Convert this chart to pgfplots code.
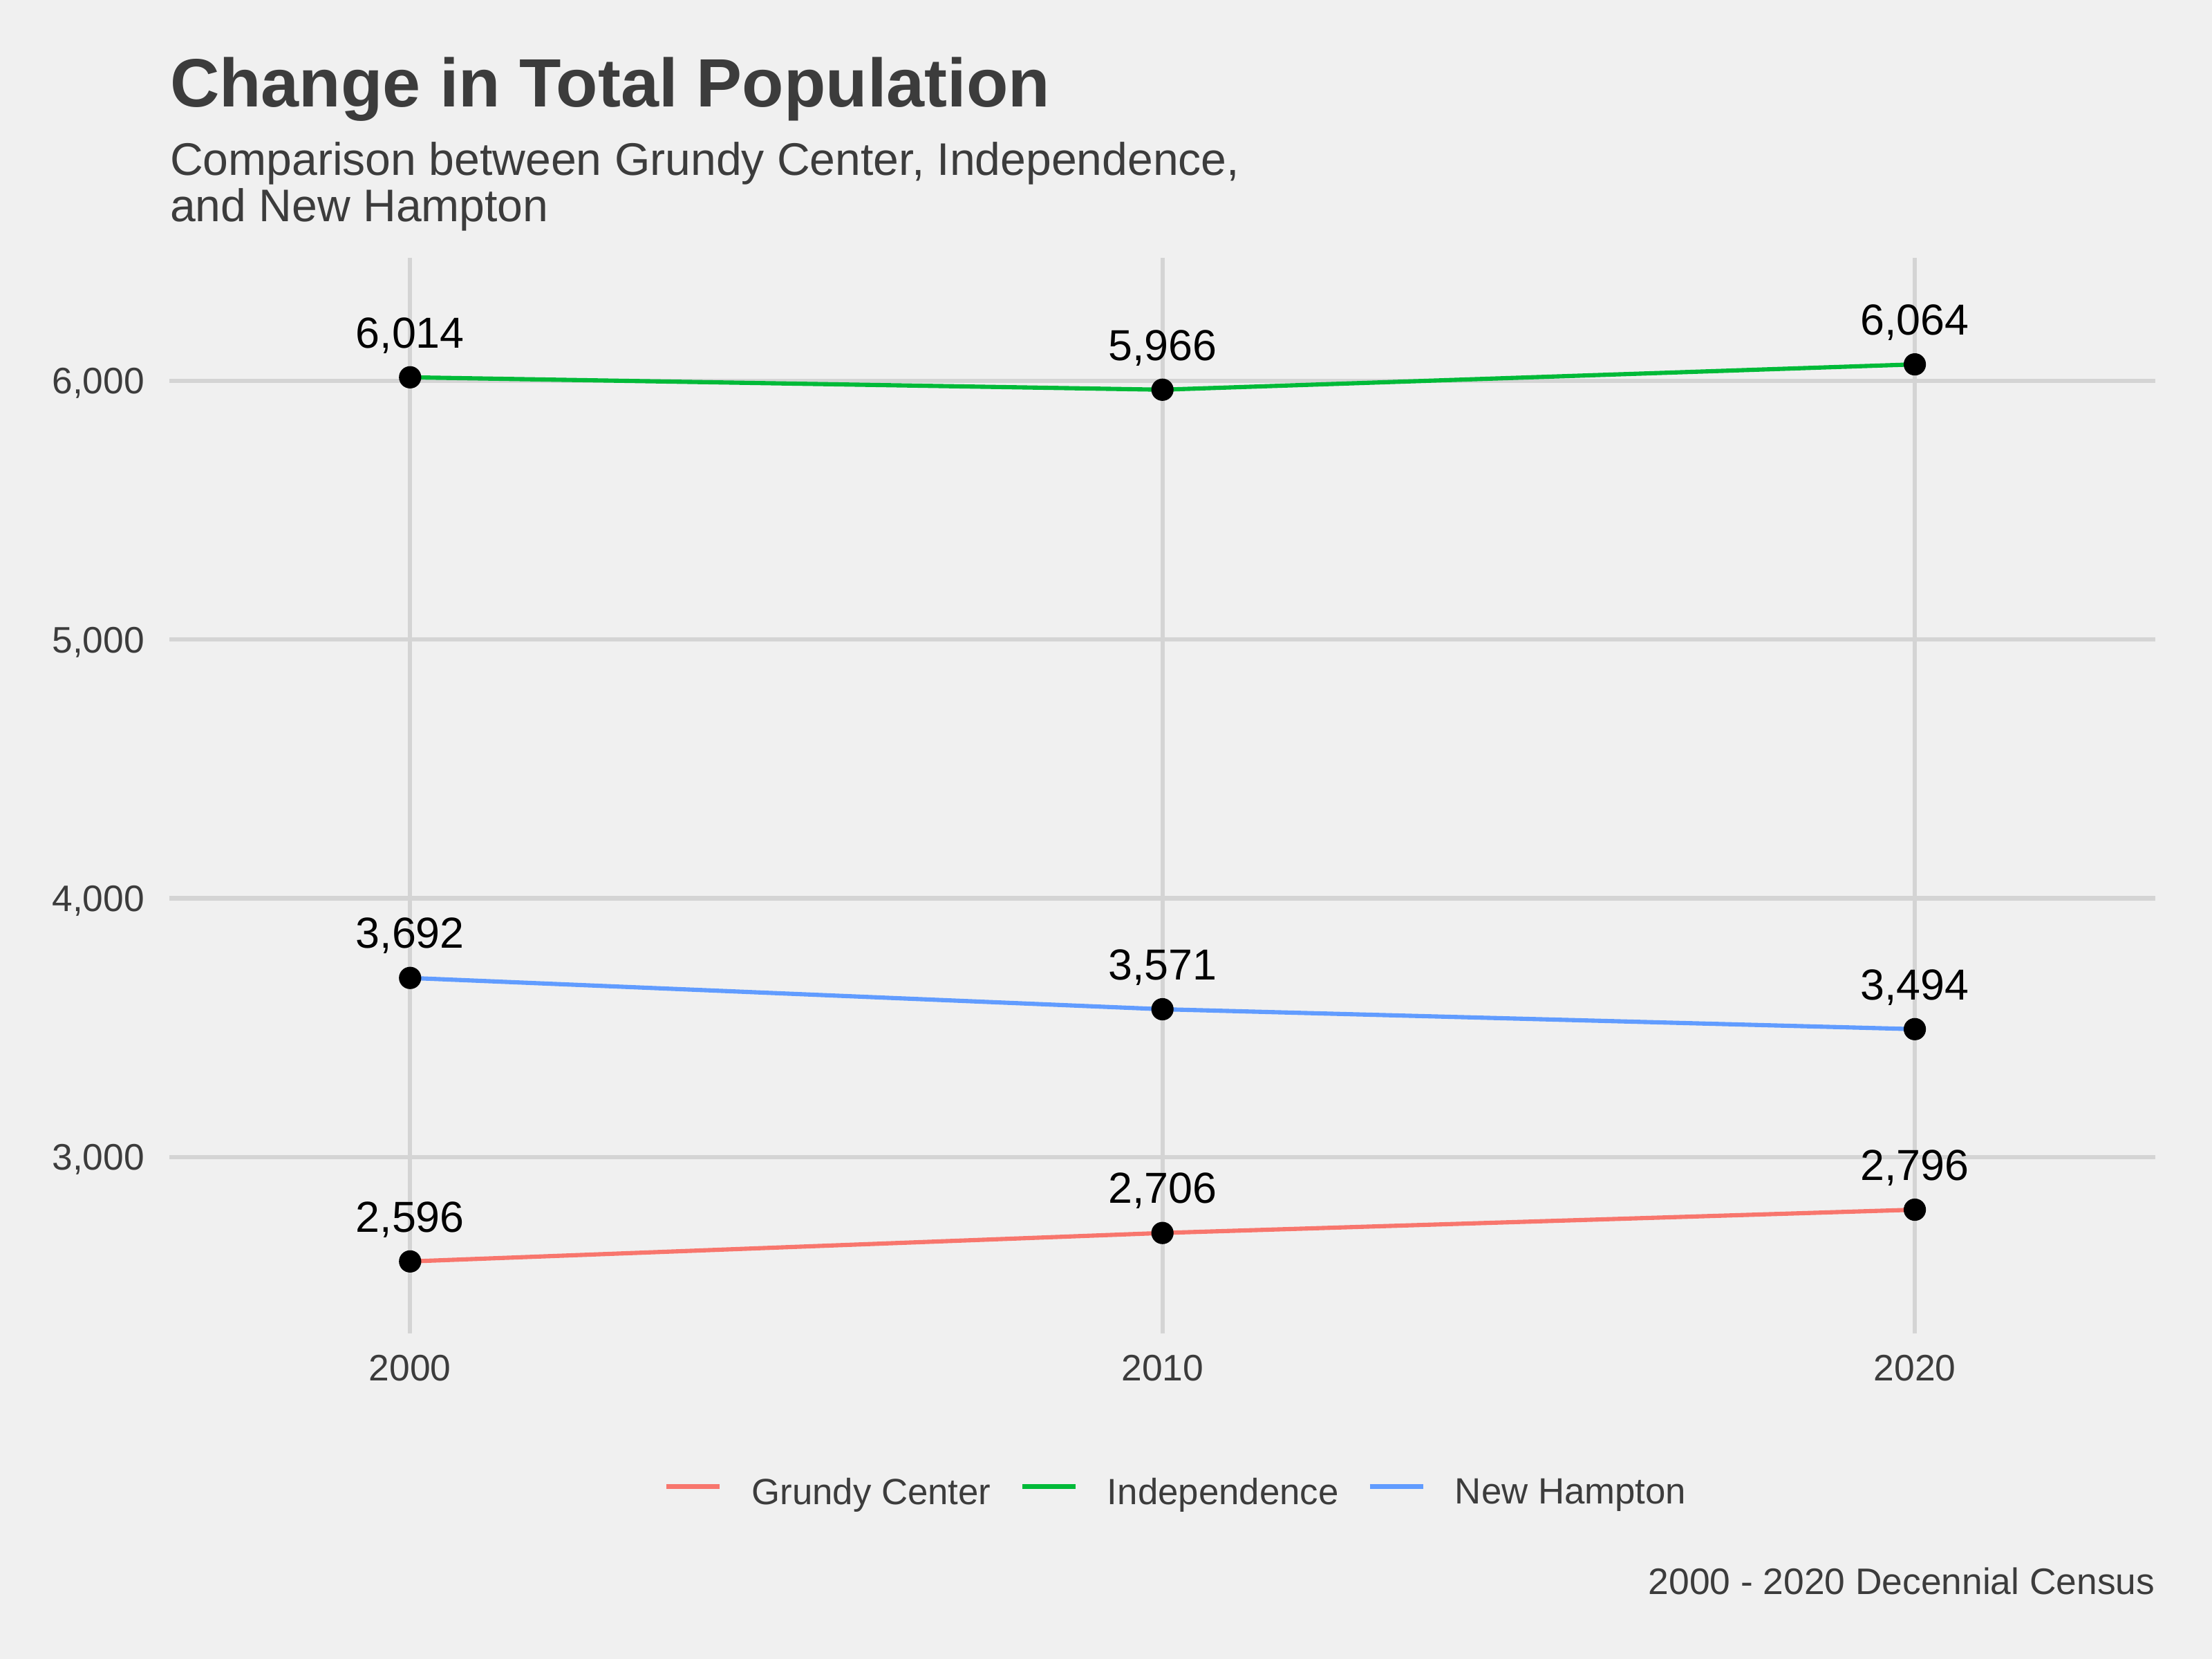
\documentclass[border=0pt]{standalone}
\usepackage{pgfplots}
\pgfplotsset{compat=1.18}
\usepackage{fontspec}
\setmainfont{Liberation Sans}
\definecolor{bgc}{HTML}{F0F0F0}
\definecolor{gridc}{HTML}{D4D4D4}
\definecolor{textc}{HTML}{3C3C3C}
\definecolor{gcol}{HTML}{F8766D}
\definecolor{icol}{HTML}{00BA38}
\definecolor{ncol}{HTML}{619CFF}
\pgfplotstableread{
year pop
2000 2596
2010 2706
2020 2796
}\grundy
\pgfplotstableread{
year pop
2000 6014
2010 5966
2020 6064
}\indep
\pgfplotstableread{
year pop
2000 3692
2010 3571
2020 3494
}\newhampton
\pgfplotsset{
  dots/.style={forget plot, only marks, mark=*, mark size=2.7bp,
    mark options={fill=black, draw=none}, point meta=explicit,
    nodes near coords={\pgfmathprintnumber[1000 sep={,},assume math mode=true]{\pgfplotspointmeta}},
    every node near coord/.append style={font=\fontsize{11.3bp}{13bp}\selectfont, text=black, inner sep=0pt, text depth=0pt, yshift=7.5bp}},
}
\begin{document}
\begin{tikzpicture}
\fill[bgc] (0bp,0bp) rectangle (576bp,432bp);
\node[anchor=base west, inner sep=0pt, text=textc, font=\bfseries\fontsize{17.8bp}{20bp}\selectfont] at (44.1bp,404.1bp) {Change in Total Population};
\node[anchor=base west, inner sep=0pt, text=textc, font=\fontsize{11.9bp}{13bp}\selectfont] at (44.1bp,386.4bp) {Comparison between Grundy Center, Independence,};
\node[anchor=base west, inner sep=0pt, text=textc, font=\fontsize{11.9bp}{13bp}\selectfont] at (44.1bp,374.3bp) {and New Hampton};
\node[anchor=base east, inner sep=0pt, text=textc, font=\fontsize{9.6bp}{11bp}\selectfont] at (561.3bp,16.8bp) {2000 - 2020 Decennial Census};
\begin{axis}[
  at={(44.1bp,84.8bp)}, anchor=south west,
  scale only axis, width=517.2bp, height=280bp,
  xmin=1996.8, xmax=2023.2, ymin=2318, ymax=6475,
  xtick={2000,2010,2020}, xticklabels={2000,2010,2020},
  ytick={3000,4000,5000,6000},
  axis line style={draw=none}, major tick length=0pt,
  grid=major, grid style={draw=gridc, line width=1.1bp},
  clip=false,
  tick label style={font=\fontsize{9.6bp}{11bp}\selectfont, text=textc},
  yticklabel style={anchor=base east, inner sep=0pt, xshift=-6.3bp, yshift=-3.4bp},
  xticklabel style={anchor=base, inner sep=0pt, yshift=-12.4bp},
  /pgf/number format/1000 sep={,},
  /pgf/number format/assume math mode=true,
  legend columns=-1,
  legend style={draw=none, fill=none, at={(0.5065,-0.1496)}, anchor=center, inner sep=0pt,
    nodes={inner sep=0pt, font=\fontsize{9.5bp}{11bp}\selectfont, text=textc},
    /tikz/every odd column/.append style={column sep=7.8bp},
    /tikz/every even column/.append style={column sep=7.6bp}},
  legend image code/.code={\draw[#1, line width=1.1bp] (0bp,0.2em) -- (13.8bp,0.2em);},
]
\addplot[gcol, line width=1.1bp, no marks] table[x=year,y=pop] {\grundy};
\addlegendentry{Grundy Center}
\addplot[icol, line width=1.1bp, no marks] table[x=year,y=pop] {\indep};
\addlegendentry{Independence}
\addplot[ncol, line width=1.1bp, no marks] table[x=year,y=pop] {\newhampton};
\addlegendentry{New Hampton}
\addplot[dots] table[x=year,y=pop,meta=pop] {\grundy};
\addplot[dots] table[x=year,y=pop,meta=pop] {\indep};
\addplot[dots] table[x=year,y=pop,meta=pop] {\newhampton};
\end{axis}
\end{tikzpicture}
\end{document}
